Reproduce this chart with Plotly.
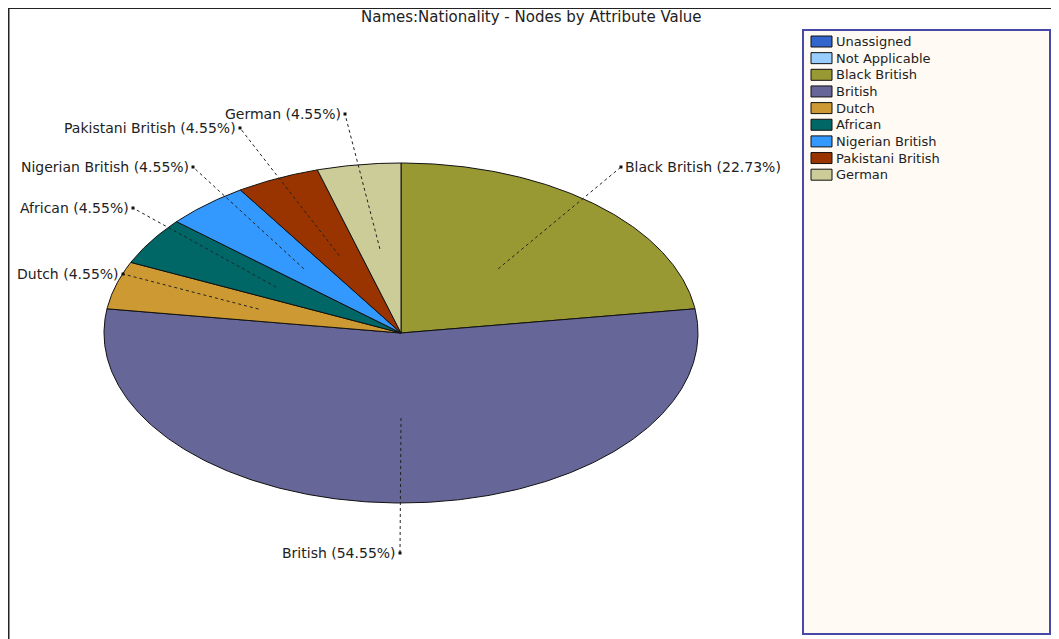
import math
import plotly.graph_objects as go

# ---------------- data ----------------
categories = ["Unassigned", "Not Applicable", "Black British", "British", "Dutch",
              "African", "Nigerian British", "Pakistani British", "German"]
counts = [0, 0, 5, 12, 1, 1, 1, 1, 1]
colors = ["#3366CC", "#99CCFF", "#999933", "#666699", "#CC9933",
          "#006666", "#3399FF", "#993300", "#CCCC99"]
title_text = "Names:Nationality - Nodes by Attribute Value"

# ---------------- layout / style ----------------
WIN_W, WIN_H = 1059, 639
PAGE_MARGIN = 8                           # default body margin of the page
W, H = WIN_W - PAGE_MARGIN, WIN_H - PAGE_MARGIN
CX, CY, RX, RY = 401, 333, 297, 170      # pie ellipse (window pixels)
LEADER_FRAC = 0.5                         # leader line starts at half radius
# label dot positions (window pixels) and text side
label_pos = {
    "Black British": (621, 167, "left"),
    "British": (400, 553, "right"),
    "Dutch": (123, 274, "right"),
    "African": (133, 208, "right"),
    "Nigerian British": (193, 167, "right"),
    "Pakistani British": (240, 128, "right"),
    "German": (345, 114, "right"),
}
FONT = "DejaVu Sans"
TXT = "#222222"

fig = go.Figure()
total = sum(counts)
angle = 90.0
annotations = []
for cat, val, col in zip(categories, counts, colors):
    if val <= 0:
        continue
    sweep = 360.0 * val / total
    a0, a1 = angle, angle - sweep
    n = max(8, int(sweep * 2))
    xs, ys = [CX], [CY]
    for k in range(n + 1):
        t = math.radians(a0 + (a1 - a0) * k / n)
        xs.append(CX + RX * math.cos(t))
        ys.append(CY - RY * math.sin(t))
    xs.append(CX)
    ys.append(CY)
    fig.add_trace(go.Scatter(x=xs, y=ys, mode="lines", fill="toself",
                             fillcolor=col, line=dict(color="#111111", width=1),
                             hoverinfo="skip", showlegend=False))
    # leader line
    mid = math.radians((a0 + a1) / 2)
    sx = CX + RX * LEADER_FRAC * math.cos(mid)
    sy = CY - RY * LEADER_FRAC * math.sin(mid)
    lx, ly, side = label_pos[cat]
    fig.add_trace(go.Scatter(x=[sx, lx], y=[sy, ly], mode="lines",
                             line=dict(color="#222222", width=1, dash="dot"),
                             hoverinfo="skip", showlegend=False))
    fig.add_trace(go.Scatter(x=[lx], y=[ly], mode="markers",
                             marker=dict(symbol="square", size=3, color="#111111"),
                             hoverinfo="skip", showlegend=False))
    pct = 100.0 * val / total
    annotations.append(dict(
        x=lx, y=ly, xref="x", yref="y", showarrow=False,
        text=f"{cat} ({pct:.2f}%)",
        xanchor="right" if side == "right" else "left",
        xshift=-2 if side == "right" else 2, yanchor="middle",
        font=dict(family=FONT, size=14, color=TXT)))
    angle = a1

shapes = []
# outer frame
shapes.append(dict(type="line", x0=8.75, x1=8.75, y0=0, y1=WIN_H, xref="x", yref="y",
                   line=dict(color="#222222", width=1.5)))
shapes.append(dict(type="line", x0=8, x1=1057, y0=8.5, y1=8.5, xref="x", yref="y",
                   line=dict(color="#222222", width=1)))
shapes.append(dict(type="line", x0=1056, x1=1056, y0=0, y1=WIN_H, xref="x", yref="y",
                   line=dict(color="#888888", width=1.5)))
# legend box
LX0, LX1, LY0, LY1 = 803, 1050, 30, 634
shapes.append(dict(type="rect", x0=LX0, x1=LX1, y0=LY0, y1=LY1, xref="x", yref="y",
                   line=dict(color="#4848A8", width=2), fillcolor="#FFFBF4", layer="below"))
ROW0, STEP = 41.5, 16.65
for i, (cat, col) in enumerate(zip(categories, colors)):
    yc = ROW0 + STEP * i
    shapes.append(dict(type="rect", x0=811, x1=832, y0=yc - 5.5, y1=yc + 5.5,
                       xref="x", yref="y", fillcolor=col,
                       line=dict(color="#111111", width=1)))
    annotations.append(dict(x=834, y=yc, xref="x", yref="y", showarrow=False,
                            text=cat, xanchor="left", yanchor="middle",
                            font=dict(family=FONT, size=13, color=TXT)))

annotations.append(dict(x=531, y=17, xref="x", yref="y", showarrow=False,
                        text=title_text, xanchor="center", yanchor="middle",
                        font=dict(family=FONT, size=15, color=TXT)))

fig.update_layout(
    width=W, height=H, margin=dict(l=0, r=0, t=0, b=0),
    paper_bgcolor="white", plot_bgcolor="white",
    xaxis=dict(range=[PAGE_MARGIN, WIN_W], visible=False, fixedrange=True),
    yaxis=dict(range=[WIN_H, PAGE_MARGIN], visible=False, fixedrange=True),
    shapes=shapes, annotations=annotations, showlegend=False,
)
fig.write_html("out.html")
